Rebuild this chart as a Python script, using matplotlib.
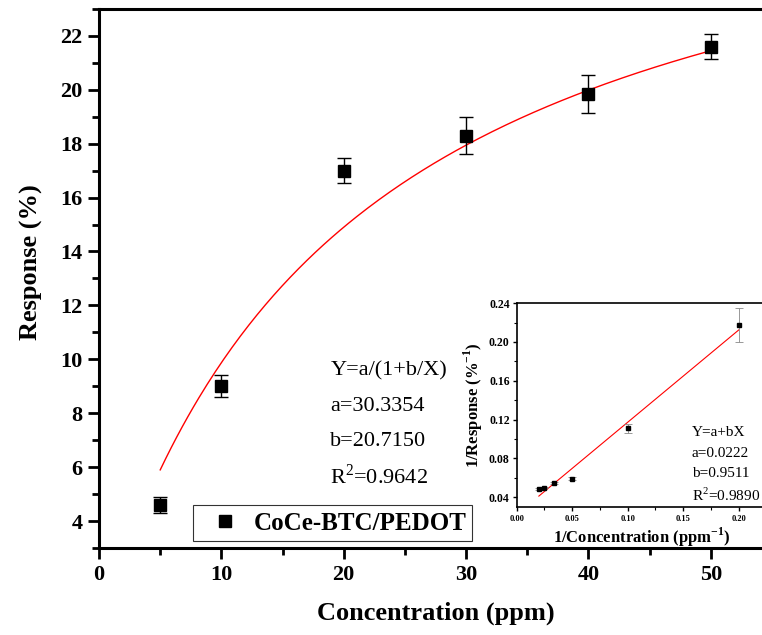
import matplotlib
matplotlib.use("Agg")
import matplotlib.pyplot as plt
import numpy as np
from matplotlib.lines import Line2D
from matplotlib.ticker import MultipleLocator, FormatStrFormatter

# Main data: response vs concentration
conc = [5, 10, 20, 30, 40, 50]
response = [4.6, 9.0, 17.0, 18.3, 19.85, 21.6]
response_err = [0.3, 0.4, 0.45, 0.7, 0.7, 0.45]
fit_a, fit_b = 30.3354, 20.7150

# Inset data: 1/response vs 1/concentration
inv_conc = [0.02, 0.025, 0.0333, 0.05, 0.1, 0.2]
inv_resp = [0.0485, 0.0500, 0.0547, 0.0590, 0.1110, 0.2170]
inv_err = [0.0008, 0.0008, 0.0010, 0.0015, 0.0045, 0.0175]
lin_a, lin_b = 0.0222, 0.9511

plt.rcParams["font.family"] = ["Liberation Serif", "DejaVu Serif"]
plt.rcParams["mathtext.fontset"] = "custom"
plt.rcParams["mathtext.rm"] = "Liberation Serif"
plt.rcParams["mathtext.bf"] = "Liberation Serif:bold"

fig = plt.figure(figsize=(7.62, 6.35), dpi=100)
fig.patch.set_facecolor("white")

# ---- main axes (right side cut off like the original)
ax = fig.add_axes([0.130, 0.137, 0.883, 0.849])
ax.errorbar(conc, response, yerr=response_err, fmt="s", color="black",
            ms=9, capsize=5, elinewidth=1, capthick=1, zorder=3)
xs = np.linspace(conc[0], conc[-1], 200)
ax.plot(xs, fit_a / (1 + fit_b / xs), color="red", lw=1, zorder=2)

ax.set_xlim(0, 55)
ax.set_ylim(3, 23)
ax.xaxis.set_major_locator(MultipleLocator(10))
ax.xaxis.set_minor_locator(MultipleLocator(5))
ax.yaxis.set_major_locator(MultipleLocator(2))
ax.yaxis.set_minor_locator(MultipleLocator(1))
for s in ["left", "bottom", "top"]:
    ax.spines[s].set_linewidth(2.2)
ax.spines["right"].set_visible(False)
ax.tick_params(which="major", direction="out", length=8, width=2,
               labelsize=16, pad=4)
ax.tick_params(which="minor", direction="out", length=5, width=2)
for lab in ax.get_xticklabels() + ax.get_yticklabels():
    lab.set_fontweight("bold")
ax.set_xlabel("Concentration (ppm)", fontsize=19, fontweight="bold", labelpad=12)
ax.set_ylabel("Response (%)", fontsize=19, fontweight="bold", labelpad=12)
ax.yaxis.set_label_coords(-0.084, 0.53)

ax.text(18.9, 9.56, "Y=a/(1+b/X)", fontsize=16, va="center")
ax.text(18.9, 8.26, "a=30.3354", fontsize=16, va="center")
ax.text(18.9, 6.96, "b=20.7150", fontsize=16, va="center")
ax.text(18.9, 5.67, r"R$^2$=0.9642", fontsize=16, va="center")

handle = Line2D([], [], ls="none", marker="s", color="black", ms=9)
leg = ax.legend([handle], ["CoCe-BTC/PEDOT"], loc="lower left",
                bbox_to_anchor=(0.140, 0.013),
                prop={"weight": "bold", "size": 18}, frameon=True,
                fancybox=False, edgecolor="black", handletextpad=0.15,
                borderpad=0.25, handlelength=2.0, borderaxespad=0)
leg.get_frame().set_linewidth(0.8)

# ---- inset
ins = fig.add_axes([0.678, 0.2016, 0.328, 0.321])
ins.errorbar(inv_conc, inv_resp, yerr=inv_err, fmt="s", color="black",
             ms=3.5, capsize=3, elinewidth=0.6, capthick=0.6,
             ecolor="#888888", zorder=3)
xl = np.linspace(inv_conc[0], inv_conc[-1], 50)
ins.plot(xl, lin_a + lin_b * xl, color="red", lw=0.8, zorder=2)
ins.set_xlim(0, 0.225)
ins.set_ylim(0.03, 0.24)
ins.xaxis.set_major_locator(MultipleLocator(0.05))
ins.xaxis.set_minor_locator(MultipleLocator(0.025))
ins.yaxis.set_major_locator(MultipleLocator(0.04))
ins.yaxis.set_minor_locator(MultipleLocator(0.02))
ins.xaxis.set_major_formatter(FormatStrFormatter("%.2f"))
ins.yaxis.set_major_formatter(FormatStrFormatter("%.2f"))
for s in ["left", "bottom", "top"]:
    ins.spines[s].set_linewidth(1.2)
ins.spines["right"].set_visible(False)
ins.tick_params(axis="x", which="major", direction="out", length=3, width=1,
                labelsize=6, pad=3)
ins.tick_params(axis="y", which="major", direction="out", length=3, width=1,
                labelsize=8.5, pad=2)
ins.tick_params(which="minor", direction="out", length=2, width=0.8)
for lab in ins.get_xticklabels() + ins.get_yticklabels():
    lab.set_fontweight("bold")
ins.set_xlabel(r"1/Concentration (ppm$^{\mathbf{-1}}$)", fontsize=12,
               fontweight="bold", labelpad=2)
ins.set_ylabel(r"1/Response (%$^{\mathbf{-1}}$)", fontsize=12,
               fontweight="bold", labelpad=3)

ins.text(0.1577, 0.1070, "Y=a+bX", fontsize=11, va="center")
ins.text(0.1577, 0.0854, "a=0.0222", fontsize=11, va="center")
ins.text(0.1577, 0.0647, "b=0.9511", fontsize=11, va="center")
ins.text(0.1577, 0.0421, r"R$^2$=0.9890", fontsize=11, va="center")

fig.savefig("out.png", dpi=100, facecolor="white")
